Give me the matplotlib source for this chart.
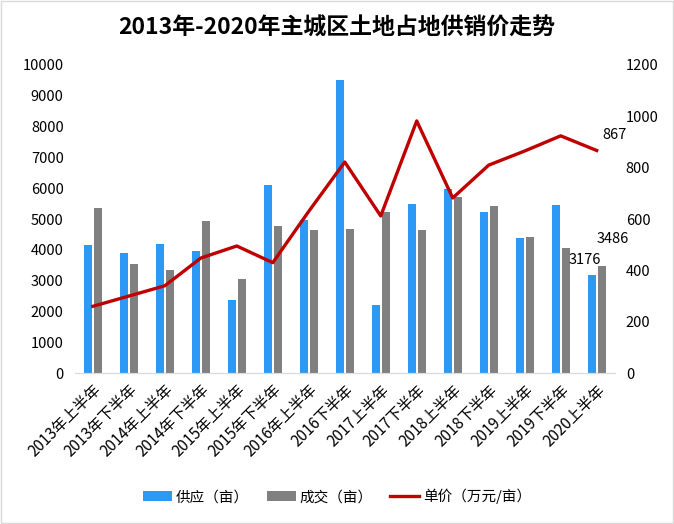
import matplotlib.pyplot as plt
import numpy as np
from matplotlib.patches import Rectangle

plt.rcParams['font.family'] = ['Noto Sans CJK SC', 'DejaVu Sans']

periods = ['2013年上半年', '2013年下半年', '2014年上半年', '2014年下半年', '2015年上半年',
           '2015年下半年', '2016年上半年', '2016下半年', '2017上半年', '2017下半年',
           '2018上半年', '2018下半年', '2019上半年', '2019下半年', '2020上半年']
supply = [4150, 3900, 4190, 3960, 2370, 6100, 4970, 9510, 2210, 5490,
          5970, 5230, 4380, 5450, 3176]
deal = [5350, 3540, 3340, 4930, 3050, 4770, 4640, 4670, 5230, 4640,
        5710, 5420, 4420, 4060, 3486]
price = [260, 300, 340, 448, 495, 430, 630, 822, 612, 982,
         682, 810, 865, 924, 867]

x = np.arange(len(periods))

fig = plt.figure(figsize=(6.74, 5.24), dpi=100)
ax = fig.add_axes([0.111, 0.288, 0.801, 0.588])
ax2 = ax.twinx()

b1 = ax.bar(x - 0.14, supply, width=0.22, color='#2C9AF5', label='供应（亩）')
b2 = ax.bar(x + 0.14, deal, width=0.22, color='#808080', label='成交（亩）')
l1, = ax2.plot(x, price, color='#C00000', lw=2.4, label='单价（万元/亩）')

ax.set_xlim(-0.5, len(periods) - 0.5)
ax.set_ylim(0, 10000)
ax.set_yticks(range(0, 10001, 1000))
ax2.set_ylim(0, 1200)
ax2.set_yticks(range(0, 1201, 200))

ax.set_xticks(x)
ax.set_xticklabels(periods, rotation=45, ha='right', rotation_mode='anchor', fontsize=11)
ax.tick_params(axis='x', length=0, pad=6)
ax.tick_params(axis='y', length=0, labelsize=10.5, pad=8)
ax2.tick_params(axis='y', length=0, labelsize=10.5, pad=8)

for a in (ax, ax2):
    for s in ('top', 'left', 'right'):
        a.spines[s].set_visible(False)
    a.spines['bottom'].set_color('#D9D9D9')

# data labels for the last period
ax.annotate(str(supply[-1]), (x[-1] - 0.14, supply[-1]), xytext=(-5, 6),
            textcoords='offset points', ha='center', va='bottom', fontsize=10.5)
ax.annotate(str(deal[-1]), (x[-1] + 0.14, deal[-1]), xytext=(8, 14),
            textcoords='offset points', ha='center', va='bottom', fontsize=10.5)
ax2.annotate(str(price[-1]), (x[-1], price[-1]), xytext=(13, 6),
             textcoords='offset points', ha='center', va='bottom', fontsize=10.5)

fig.suptitle('2013年-2020年主城区土地占地供销价走势', y=0.968, fontsize=16.5, fontweight='bold')

fig.legend(handles=[b1, b2, l1], loc='center', bbox_to_anchor=(0.5, 0.052), ncol=3,
           frameon=False, fontsize=10.5, handlelength=2.0, columnspacing=1.2, handletextpad=0.25)

fig.patches.append(Rectangle((0.001, 0.001), 0.997, 0.997, transform=fig.transFigure,
                             fill=False, edgecolor='#D9D9D9', lw=1))

fig.savefig('out.png', dpi=100)
